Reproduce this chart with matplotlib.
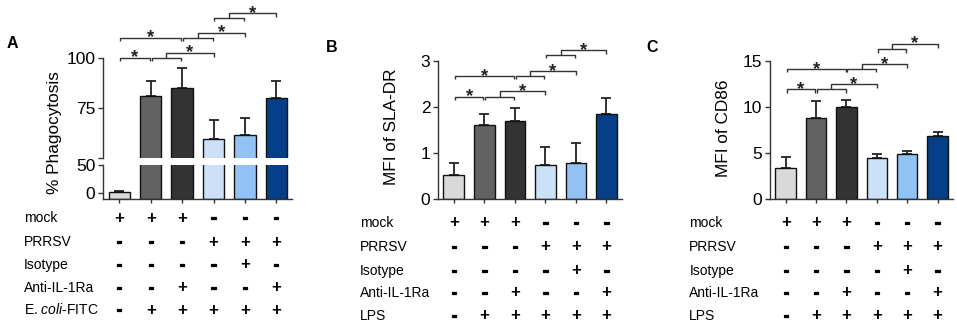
import matplotlib
matplotlib.use('Agg')
import matplotlib.pyplot as plt
import matplotlib.patheffects as pe
from matplotlib.transforms import blended_transform_factory
import numpy as np

plt.rcParams['font.family'] = ['Liberation Sans', 'DejaVu Sans']
plt.rcParams['mathtext.fontset'] = 'custom'
plt.rcParams['mathtext.rm'] = 'Liberation Sans'
plt.rcParams['mathtext.it'] = 'Liberation Sans:italic'

# ---------------- data ----------------
phago_mean = [1.0, 81.0, 84.8, 59.7, 61.7, 80.2]
phago_sd = [1.8, 7.2, 9.9, 9.3, 8.1, 8.3]
sla_mean = [0.52, 1.60, 1.70, 0.73, 0.78, 1.85]
sla_sd = [0.26, 0.24, 0.27, 0.39, 0.43, 0.35]
cd86_mean = [3.4, 8.84, 10.0, 4.49, 4.89, 6.85]
cd86_sd = [1.17, 1.76, 0.80, 0.37, 0.36, 0.40]

row_mock = ['+', '+', '+', '-', '-', '-']
row_prrsv = ['-', '-', '-', '+', '+', '+']
row_isotype = ['-', '-', '-', '-', '+', '-']
row_anti = ['-', '-', '+', '-', '-', '+']
row_stim = ['-', '+', '+', '+', '+', '+']

labels_A = ['mock', 'PRRSV', 'Isotype', 'Anti-IL-1Ra', r'E. $\mathit{coli}$-FITC']
labels_BC = ['mock', 'PRRSV', 'Isotype', 'Anti-IL-1Ra', 'LPS']

# significance comparisons: (i, j, k) -> bracket i..j, optional arm to k
comparisons = [(0, 1, None), (1, 2, 3), (0, 2, None), (2, 3, 4), (3, 4, 5)]

colors = ['#d9d9d9', '#626262', '#333333', '#cce0f8', '#92c2f4', '#043f88']

W, H = 957, 324
fig = plt.figure(figsize=(W / 100, H / 100), dpi=100)


def fr(x0, y_top, x1, y_bot):
    return [x0 / W, 1 - y_bot / H, (x1 - x0) / W, (y_bot - y_top) / H]


def style(ax, bottom=True):
    for s in ['top', 'right']:
        ax.spines[s].set_visible(False)
    for s in ['left', 'bottom']:
        ax.spines[s].set_linewidth(1.0)
        ax.spines[s].set_color('#333333')
    ax.tick_params(axis='y', direction='out', length=3.5, width=1.0,
                   labelsize=12.5, pad=2, color='#333333')
    if bottom:
        ax.tick_params(axis='x', direction='out', length=3, width=1.0,
                       labelbottom=False, color='#333333')
        ax.set_xticks(np.arange(6))
    else:
        ax.spines['bottom'].set_visible(False)
        ax.set_xticks([])
    ax.set_xlim(-0.52, 5.5)
    ax.patch.set_alpha(0)


def bars(ax, means, sds, base=0.0):
    x = np.arange(len(means))
    m = np.array(means)
    ax.errorbar(x, m, yerr=[np.zeros(len(m)), sds], fmt='none', ecolor='#222222',
                elinewidth=1.3, capsize=3.6, capthick=1.3, zorder=1)
    ax.bar(x, m - base, bottom=base, width=0.68, color=colors, edgecolor='#111111',
           linewidth=1.0, zorder=2)


def brackets(ax, levels, leg):
    kw = dict(color='#333333', lw=1.0, clip_on=False, solid_capstyle='butt')
    for (i, j, k), (lo, hi) in zip(comparisons, levels):
        l, r = i + 0.03, j - 0.03
        ax.plot([l, l, r, r], [lo - leg, lo, lo, lo - leg], **kw)
        if k is None:
            sx, sy = (l + r) / 2, lo
        else:
            mid = (l + r) / 2
            ax.plot([mid, mid, k, k], [lo, hi, hi, hi - leg * 1.2], **kw)
            sx, sy = (mid + k) / 2, hi
        ax.annotate('*', xy=(sx, sy), xytext=(0, -3.5), textcoords='offset points',
                    ha='center', va='baseline', fontsize=13.5, fontweight='bold',
                    color='#222222', annotation_clip=False)


dash_fx = [pe.withStroke(linewidth=0.9, foreground='black')]


def table(ax, labels, rows_y, label_x, last_row):
    rows = [row_mock, row_prrsv, row_isotype, row_anti, last_row]
    tr = blended_transform_factory(ax.transData, fig.transFigure)
    for lab, vals, y in zip(labels, rows, rows_y):
        yf = 1 - y / H
        fig.text(label_x / W, yf, lab, ha='left', va='center', fontsize=10)
        for i, v in enumerate(vals):
            t = ax.text(i, yf, v, transform=tr, ha='center', va='center',
                        fontsize=12, fontweight='bold')
            if v == '-':
                t.set_path_effects(dash_fx)


# ---------------- Panel A (broken axis) ----------------
axA_top = fig.add_axes(fr(103, 57.7, 292, 158.3))
axA_bot = fig.add_axes(fr(103, 165, 292, 199.3))
style(axA_top, bottom=False)
style(axA_bot, bottom=True)
bars(axA_top, phago_mean, phago_sd, base=0)
bars(axA_bot, phago_mean, phago_sd, base=-12)
axA_top.set_ylim(50, 100)
axA_top.set_yticks([50, 75, 100])
axA_top.set_yticklabels(['', '75', '100'])
axA_bot.set_ylim(-12, 50)
axA_bot.set_yticks([0, 50])
axA_bot.set_yticklabels(['0', '50'])
brackets(axA_top, [(100.0, None), (100.0, 102.5), (110.0, None), (110.0, 112.5),
                   (119.7, 122.2)], 1.65)
fig.text(54 / W, 1 - 132.5 / H, '% Phagocytosis', rotation=90, ha='center', va='center',
         fontsize=12.4)
fig.text(12 / W, 1 - 44 / H, 'A', ha='center', va='center', fontsize=11.5, fontweight='bold')
table(axA_bot, labels_A, [218.3, 242.3, 265, 287.7, 310], 24, row_stim)

# ---------------- Panel B ----------------
axB = fig.add_axes(fr(438, 61, 621.7, 199))
style(axB)
bars(axB, sla_mean, sla_sd)
axB.set_ylim(0, 3)
axB.set_yticks([0, 1, 2, 3])
brackets(axB, [(2.224, None), (2.224, 2.348), (2.674, None), (2.674, 2.783),
               (3.13, 3.239)], 0.072)
fig.text(392 / W, 1 - 126.5 / H, 'MFI of SLA-DR', rotation=90, ha='center', va='center',
         fontsize=12.4)
fig.text(332 / W, 1 - 47 / H, 'B', ha='center', va='center', fontsize=11.5, fontweight='bold')
table(axB, labels_BC, [222.7, 246.7, 270.5, 293, 315.8], 360, row_stim)

# ---------------- Panel C ----------------
axC = fig.add_axes(fr(770, 61, 952.7, 199))
style(axC)
bars(axC, cd86_mean, cd86_sd)
axC.set_ylim(0, 15)
axC.set_yticks([0, 5, 10, 15])
brackets(axC, [(11.92, None), (11.92, 12.47), (14.13, None), (14.13, 14.67),
               (16.27, 16.88)], 0.36)
fig.text(723 / W, 1 - 128.5 / H, 'MFI of CD86', rotation=90, ha='center', va='center',
         fontsize=12.4)
fig.text(652 / W, 1 - 47 / H, 'C', ha='center', va='center', fontsize=11.5, fontweight='bold')
table(axC, labels_BC, [222.7, 246.7, 270.5, 293, 315.8], 689.3, row_stim)

fig.savefig('out.png', dpi=100)
